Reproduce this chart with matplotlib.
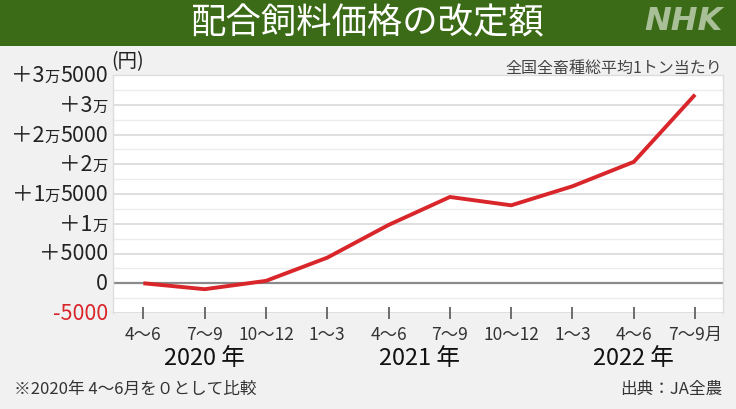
import matplotlib.pyplot as plt
from matplotlib.offsetbox import TextArea, HPacker, AnnotationBbox
import numpy as np

plt.rcParams['font.family'] = ['Noto Sans CJK JP', 'DejaVu Sans']

# data
quarters = ['4〜6', '7〜9', '10〜12', '1〜3', '4〜6', '7〜9', '10〜12', '1〜3', '4〜6', '7〜9月']
values = [0, -1000, 400, 4300, 9800, 14500, 13100, 16300, 20400, 31700]
years = ['2020 年', '2021 年', '2022 年']
year_pos = [1, 4.5, 8]
y_ticks = [-5000, 0, 5000, 10000, 15000, 20000, 25000, 30000, 35000]
# each label: (before 万, 万 or '', after)
y_labels = [('-5000', '', ''), ('0', '', ''), ('＋5000', '', ''),
            ('＋1', '万', ''), ('＋1', '万', '5000'), ('＋2', '万', ''),
            ('＋2', '万', '5000'), ('＋3', '万', ''), ('＋3', '万', '5000')]

BG = '#f1f1f1'
GREEN = '#3b6b17'
RED = '#d8262b'

fig = plt.figure(figsize=(7.36, 4.10), dpi=100, facecolor=BG)

# title band
fig.patches.append(plt.Rectangle((0, 1 - 47 / 410), 1, 47 / 410, transform=fig.transFigure,
                                 facecolor=GREEN, edgecolor='none', zorder=0))
fig.text(0.5, 1 - 23 / 410, '配合飼料価格の改定額', color='white', fontsize=25.5,
         ha='center', va='center')
fig.text(0.982, 1 - 21 / 410, 'NHK', color='#a8bf98', fontsize=23, fontweight='bold',
         fontstyle='italic', family='DejaVu Sans', ha='right', va='center')

ax = fig.add_axes([112.7 / 736, 1 - 314 / 410, 610.6 / 736, 238 / 410])
ax.set_facecolor('white')
x = np.arange(len(values))

# grid
for v in np.arange(-5000, 35001, 2500):
    major = v % 5000 == 0
    ax.axhline(v, color='#d9d9d9' if major else '#ececec', lw=1.2 if major else 1.0, zorder=1)
ax.axhline(0, color='#8a8a8a', lw=1.6, zorder=2)

ax.plot(x, values, color=RED, lw=2.8, solid_capstyle='butt', zorder=3)

ax.set_xlim(-0.5, 9.46)
ax.set_ylim(-5000, 35000)
for s in ax.spines.values():
    s.set_color('#dddddd')
    s.set_linewidth(1.0)
ax.spines['bottom'].set_visible(False)

ax.set_xticks(x)
ax.set_xticklabels(quarters, fontsize=12.5, color='#333333')
ax.tick_params(axis='x', direction='inout', length=9, width=1.2, color='#555555', pad=4)
ax.set_yticks(y_ticks)
ax.set_yticklabels([])
ax.tick_params(axis='y', length=0)

# y labels with a small 万
for v, (a, m, b) in zip(y_ticks, y_labels):
    col = RED if v < 0 else '#222222'
    parts = [TextArea(a, textprops=dict(fontsize=15.5, color=col))]
    if m:
        parts.append(TextArea(m, textprops=dict(fontsize=11, color=col)))
    if b:
        parts.append(TextArea(b, textprops=dict(fontsize=15.5, color=col)))
    box = HPacker(children=parts, align='baseline', pad=0, sep=0)
    ab = AnnotationBbox(box, (-0.008, v), xycoords=ax.get_yaxis_transform(),
                        box_alignment=(1, 0.5), frameon=False, pad=0, annotation_clip=False)
    ax.add_artist(ab)

for yr, p in zip(years, year_pos):
    ax.text(p, -0.185, yr, transform=ax.get_xaxis_transform(), fontsize=17,
            color='#111111', ha='center', va='center')

fig.text(111 / 736, 1 - 62 / 410, '(円)', fontsize=14, color='#222222', ha='left', va='center')
fig.text(722 / 736, 1 - 68 / 410, '全国全畜種総平均1トン当たり', fontsize=11.5,
         color='#444444', ha='right', va='center')
fig.text(14 / 736, 1 - 389 / 410, '※2020年 4〜6月を０として比較', fontsize=12,
         color='#333333', ha='left', va='center')
fig.text(722 / 736, 1 - 389 / 410, '出典：JA全農', fontsize=12,
         color='#333333', ha='right', va='center')

fig.savefig('out.png', dpi=100, facecolor=BG)
